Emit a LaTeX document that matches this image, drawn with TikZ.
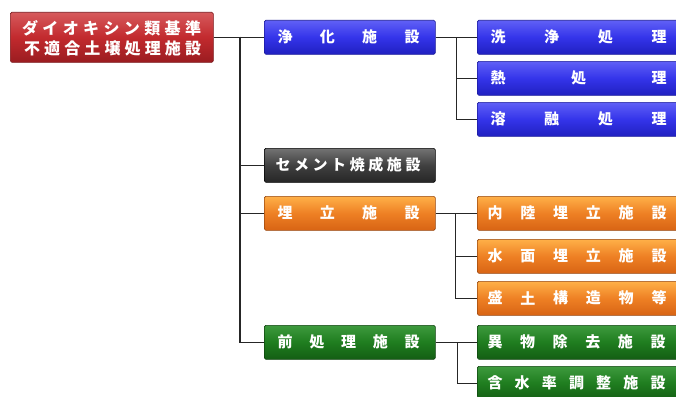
\documentclass[tikz,border=0pt]{standalone}
\usepackage{fontspec}
\newfontfamily\jp{Noto Sans CJK JP}
\definecolor{redtop}{HTML}{D65A5C}
\definecolor{redmid}{HTML}{C22A2E}
\definecolor{redbot}{HTML}{9A1C20}
\definecolor{bluetop}{HTML}{6060F6}
\definecolor{bluemid}{HTML}{3434EA}
\definecolor{bluebot}{HTML}{2020C0}
\definecolor{oratop}{HTML}{FFB048}
\definecolor{oramid}{HTML}{EE8024}
\definecolor{orabot}{HTML}{D86414}
\definecolor{grntop}{HTML}{3E9A3E}
\definecolor{grnmid}{HTML}{1F7D1F}
\definecolor{grnbot}{HTML}{145E14}
\newcommand\spreadtext[6]{%
  \foreach \c [count=\i] in {#6} {\node[ch] (#1-\i) at ({#2+(\i-1)*(#3-#2)/(#5-1)},#4) {\c};}}
\tikzset{
  box/.style={rectangle, rounded corners=1.5pt, inner sep=0pt, anchor=north west, line width=0.6pt},
  midbox/.style={box, minimum width=171pt, minimum height=34pt},
  rbox/.style={box, minimum width=206pt, minimum height=34pt},
  redfill/.style={draw=redbot!80!black, top color=redtop, bottom color=redbot, middle color=redmid},
  bluefill/.style={draw=bluebot!80!black, top color=bluetop, bottom color=bluebot, middle color=bluemid},
  grayfill/.style={draw=black, top color=black!55, bottom color=black!85, middle color=black!75},
  orangefill/.style={draw=orabot!70!black, top color=oratop, bottom color=orabot, middle color=oramid},
  greenfill/.style={draw=grnbot!70!black, top color=grntop, bottom color=grnbot, middle color=grnmid},
  ch/.style={text=white, font=\jp\bfseries\fontsize{15}{15}\selectfont, inner sep=0pt},
  chbig/.style={ch, font=\jp\bfseries\fontsize{16}{16}\selectfont},
  conn/.style={line width=1.3pt, draw=black!85}
}
\begin{document}
\begin{tikzpicture}[x=1pt,y=-1pt]
\useasboundingbox (0,0) rectangle (676,396);
% boxes
\node[box, redfill, minimum width=203pt, minimum height=50pt] (root) at (10,12) {};
\node[midbox, bluefill] (jo) at (264,20) {};
\node[midbox, grayfill] (cem) at (264,148) {};
\node[midbox, orangefill] (ume) at (264,196) {};
\node[midbox, greenfill] (pre) at (264,325) {};
\node[rbox, bluefill] (wash) at (477,20) {};
\node[rbox, bluefill] (heat) at (477,61) {};
\node[rbox, bluefill] (melt) at (477,102) {};
\node[rbox, orangefill] (inland) at (477,196) {};
\node[rbox, orangefill] (water) at (477,239) {};
\node[rbox, orangefill] (fill) at (477,281) {};
\node[rbox, greenfill] (foreign) at (477,325) {};
\node[rbox, greenfill] (moist) at (477,366) {};
% connectors
\coordinate (trunk) at (240,37);
\draw[conn] (root.east) -- (jo.west);
\draw[conn] (trunk) |- (pre.west);
\draw[conn] (trunk) |- (cem.west);
\draw[conn] (trunk) |- (ume.west);
\draw[conn] (jo.east) -- ++(21,0) coordinate (b1) -- (wash.west);
\draw[conn] (b1) |- (heat.west);
\draw[conn] (b1) |- (melt.west);
\draw[conn] (ume.east) -- ++(20,0) coordinate (b2) -- (inland.west);
\draw[conn] (b2) |- (water.west);
\draw[conn] (b2) |- (fill.west);
\draw[conn] (pre.east) -- ++(22,0) coordinate (b3) -- (foreign.west);
\draw[conn] (b3) |- (moist.west);
% texts
\foreach \c [count=\i] in {ダ,イ,オ,キ,シ,ン,類,基,準} {\node[chbig] (r1-\i) at ({30+(\i-1)*163/8},28.5) {\c};}
\foreach \c [count=\i] in {不,適,合,土,壌,処,理,施,設} {\node[chbig] (r2-\i) at ({32+(\i-1)*161/8},48.5) {\c};}
\spreadtext{t1}{285}{412}{37}{4}{浄,化,施,設}
\spreadtext{t2}{283}{413}{165}{8}{セ,メ,ン,ト,焼,成,施,設}
\spreadtext{t3}{285}{412}{213}{4}{埋,立,施,設}
\spreadtext{t4}{285}{412}{342}{5}{前,処,理,施,設}
\spreadtext{t5}{498}{659}{37}{4}{洗,浄,処,理}
\spreadtext{t6}{498}{659}{78}{3}{熱,処,理}
\spreadtext{t7}{498}{659}{119}{4}{溶,融,処,理}
\spreadtext{t8}{495}{659}{213}{6}{内,陸,埋,立,施,設}
\spreadtext{t9}{495}{659}{256}{6}{水,面,埋,立,施,設}
\spreadtext{t10}{495}{659}{298}{6}{盛,土,構,造,物,等}
\spreadtext{t11}{495}{658}{342}{6}{異,物,除,去,施,設}
\spreadtext{t12}{495}{658}{383}{7}{含,水,率,調,整,施,設}
\end{tikzpicture}
\end{document}
